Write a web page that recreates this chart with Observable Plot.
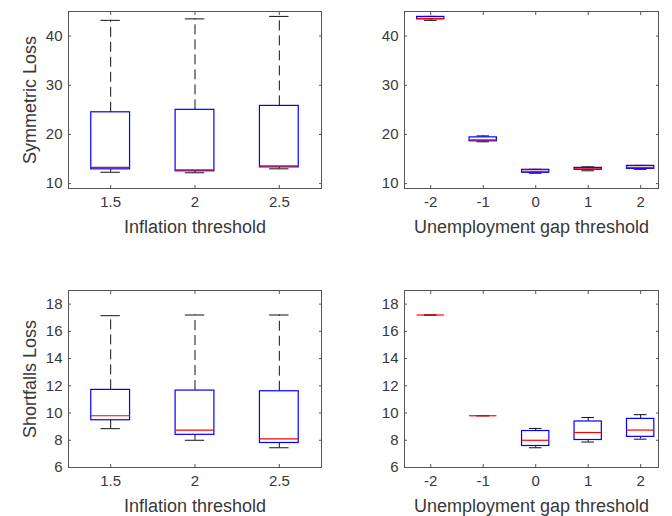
<!DOCTYPE html>
<html>
<head>
<meta charset="utf-8">
<script src="https://cdn.jsdelivr.net/npm/d3@7"></script>
<script src="https://cdn.jsdelivr.net/npm/@observablehq/plot@0.6"></script>
<style>
  html, body { margin: 0; padding: 0; background: #fff; }
  #root { position: relative; width: 672px; height: 516px; background: #fff; overflow: hidden; }
  #root > div { position: absolute; }
</style>
</head>
<body>
<div id="root"></div>
<script>
// ---- categories / ticks ----
const inflationCats = ["1.5", "2", "2.5"];
const unempCats = ["-2", "-1", "0", "1", "2"];
const symTicks = [10, 20, 30, 40];
const shortTicks = [6, 8, 10, 12, 14, 16, 18];

// ---- Symmetric loss vs inflation threshold ----
const symInfLo  = [12.3, 12.2, 13.0];
const symInfQ1  = [12.9, 12.5, 13.3];
const symInfMed = [13.3, 12.8, 13.6];
const symInfQ3  = [24.5, 25.0, 25.8];
const symInfHi  = [43.2, 43.5, 44.0];

// ---- Symmetric loss vs unemployment gap threshold ----
const symUnLo  = [43.2, 18.5, 12.1, 12.6, 12.9];
const symUnQ1  = [43.4, 18.6, 12.2, 12.8, 13.0];
const symUnMed = [43.6, 18.9, 12.5, 13.0, 13.3];
const symUnQ3  = [43.9, 19.4, 12.8, 13.2, 13.6];
const symUnHi  = [44.0, 19.7, 12.9, 13.4, 13.7];

// ---- Shortfalls loss vs inflation threshold ----
const shInfLo  = [8.85, 8.0, 7.45];
const shInfQ1  = [9.47, 8.4, 7.8];
const shInfMed = [9.8, 8.75, 8.1];
const shInfQ3  = [11.7, 11.65, 11.6];
const shInfHi  = [17.15, 17.2, 17.2];

// ---- Shortfalls loss vs unemployment gap threshold ----
const shUnLo  = [17.2, 9.8, 7.45, 7.87, 8.08];
const shUnQ1  = [17.2, 9.8, 7.58, 8.02, 8.25];
const shUnMed = [17.2, 9.8, 8.0, 8.57, 8.75];
const shUnQ3  = [17.2, 9.8, 8.68, 9.38, 9.57];
const shUnHi  = [17.2, 9.8, 8.87, 9.67, 9.88];

const FONT = "'Liberation Sans', Arial, Helvetica, sans-serif";
const TXT = "#383838";

function panel({cats, lo, q1, med, q3, hi, yDomain, yTicks, xLabel, yLabel,
                left, top, height, marginTop, marginBottom, marginRight, xDomain, hw, cw}) {
  const rows = cats.map((c, i) => ({pos: i + 1, lo: lo[i], q1: q1[i], med: med[i], q3: q3[i], hi: hi[i]}));
  const xTicks = cats.map((c, i) => i + 1);
  const marks = [
    // whiskers
    Plot.ruleX(rows, {x: "pos", y1: "q3", y2: "hi", stroke: "#111", strokeWidth: 1, strokeDasharray: "10,5"}),
    Plot.ruleX(rows, {x: "pos", y1: "lo", y2: "q1", stroke: "#111", strokeWidth: 1, strokeDasharray: "10,5"}),
    // caps
    Plot.ruleY(rows, {y: "hi", x1: d => d.pos - cw, x2: d => d.pos + cw, stroke: "#111", strokeWidth: 1}),
    Plot.ruleY(rows, {y: "lo", x1: d => d.pos - cw, x2: d => d.pos + cw, stroke: "#111", strokeWidth: 1}),
    // boxes
    Plot.rect(rows, {x1: d => d.pos - hw, x2: d => d.pos + hw, y1: "q1", y2: "q3", fill: "white", stroke: "blue", strokeWidth: 1.2}),
    // medians
    Plot.ruleY(rows, {y: "med", x1: d => d.pos - hw, x2: d => d.pos + hw, stroke: "red", strokeWidth: 1.2}),
    Plot.frame({stroke: "#555", strokeWidth: 1}),
    Plot.axisX(xTicks, {anchor: "bottom", tickSize: -3, tickPadding: 11, tickFormat: i => cats[i - 1], label: null, fontSize: 15, stroke: "#555"}),
    Plot.axisX(xTicks, {anchor: "top", tickSize: -3, tickFormat: () => "", label: null, stroke: "#555"}),
    Plot.axisY(yTicks, {anchor: "left", tickSize: -3, tickPadding: 9, label: null, fontSize: 15, stroke: "#555"}),
    Plot.axisY(yTicks, {anchor: "right", tickSize: -3, tickFormat: () => "", label: null, stroke: "#555"}),
    Plot.text([xLabel], {text: d => d, frameAnchor: "bottom", textAnchor: "middle", lineAnchor: "middle", dy: 39, fontSize: 18, fill: TXT})
  ];
  if (yLabel) marks.push(Plot.text([yLabel], {text: d => d, frameAnchor: "left", textAnchor: "middle", rotate: -90, lineAnchor: "middle", dx: -38, fontSize: 18, fill: TXT}));
  const svg = Plot.plot({
    width: 336, height,
    marginLeft: 68, marginRight, marginTop, marginBottom,
    style: {fontFamily: FONT, fontSize: "15px", color: TXT, background: "transparent", overflow: "visible"},
    x: {domain: xDomain},
    y: {domain: yDomain},
    marks
  });
  const wrap = document.createElement("div");
  wrap.style.left = left + "px";
  wrap.style.top = top + "px";
  wrap.appendChild(svg);
  document.getElementById("root").appendChild(wrap);
}

panel({cats: inflationCats, lo: symInfLo, q1: symInfQ1, med: symInfMed, q3: symInfQ3, hi: symInfHi,
  yDomain: [9, 45], yTicks: symTicks, xLabel: "Inflation threshold", yLabel: "Symmetric Loss",
  left: 0, top: 0, height: 258, marginTop: 11, marginBottom: 70, marginRight: 15,
  xDomain: [0.5, 3.5], hw: 0.23, cw: 0.115});

panel({cats: unempCats, lo: symUnLo, q1: symUnQ1, med: symUnMed, q3: symUnQ3, hi: symUnHi,
  yDomain: [9, 45], yTicks: symTicks, xLabel: "Unemployment gap threshold", yLabel: null,
  left: 336, top: 0, height: 258, marginTop: 11, marginBottom: 70, marginRight: 14,
  xDomain: [0.5, 5.34], hw: 0.26, cw: 0.12});

panel({cats: inflationCats, lo: shInfLo, q1: shInfQ1, med: shInfMed, q3: shInfQ3, hi: shInfHi,
  yDomain: [6, 19], yTicks: shortTicks, xLabel: "Inflation threshold", yLabel: "Shortfalls Loss",
  left: 0, top: 258, height: 258, marginTop: 32, marginBottom: 49, marginRight: 15,
  xDomain: [0.5, 3.5], hw: 0.23, cw: 0.115});

panel({cats: unempCats, lo: shUnLo, q1: shUnQ1, med: shUnMed, q3: shUnQ3, hi: shUnHi,
  yDomain: [6, 19], yTicks: shortTicks, xLabel: "Unemployment gap threshold", yLabel: null,
  left: 336, top: 258, height: 258, marginTop: 32, marginBottom: 49, marginRight: 14,
  xDomain: [0.5, 5.34], hw: 0.26, cw: 0.12});
</script>
</body>
</html>
